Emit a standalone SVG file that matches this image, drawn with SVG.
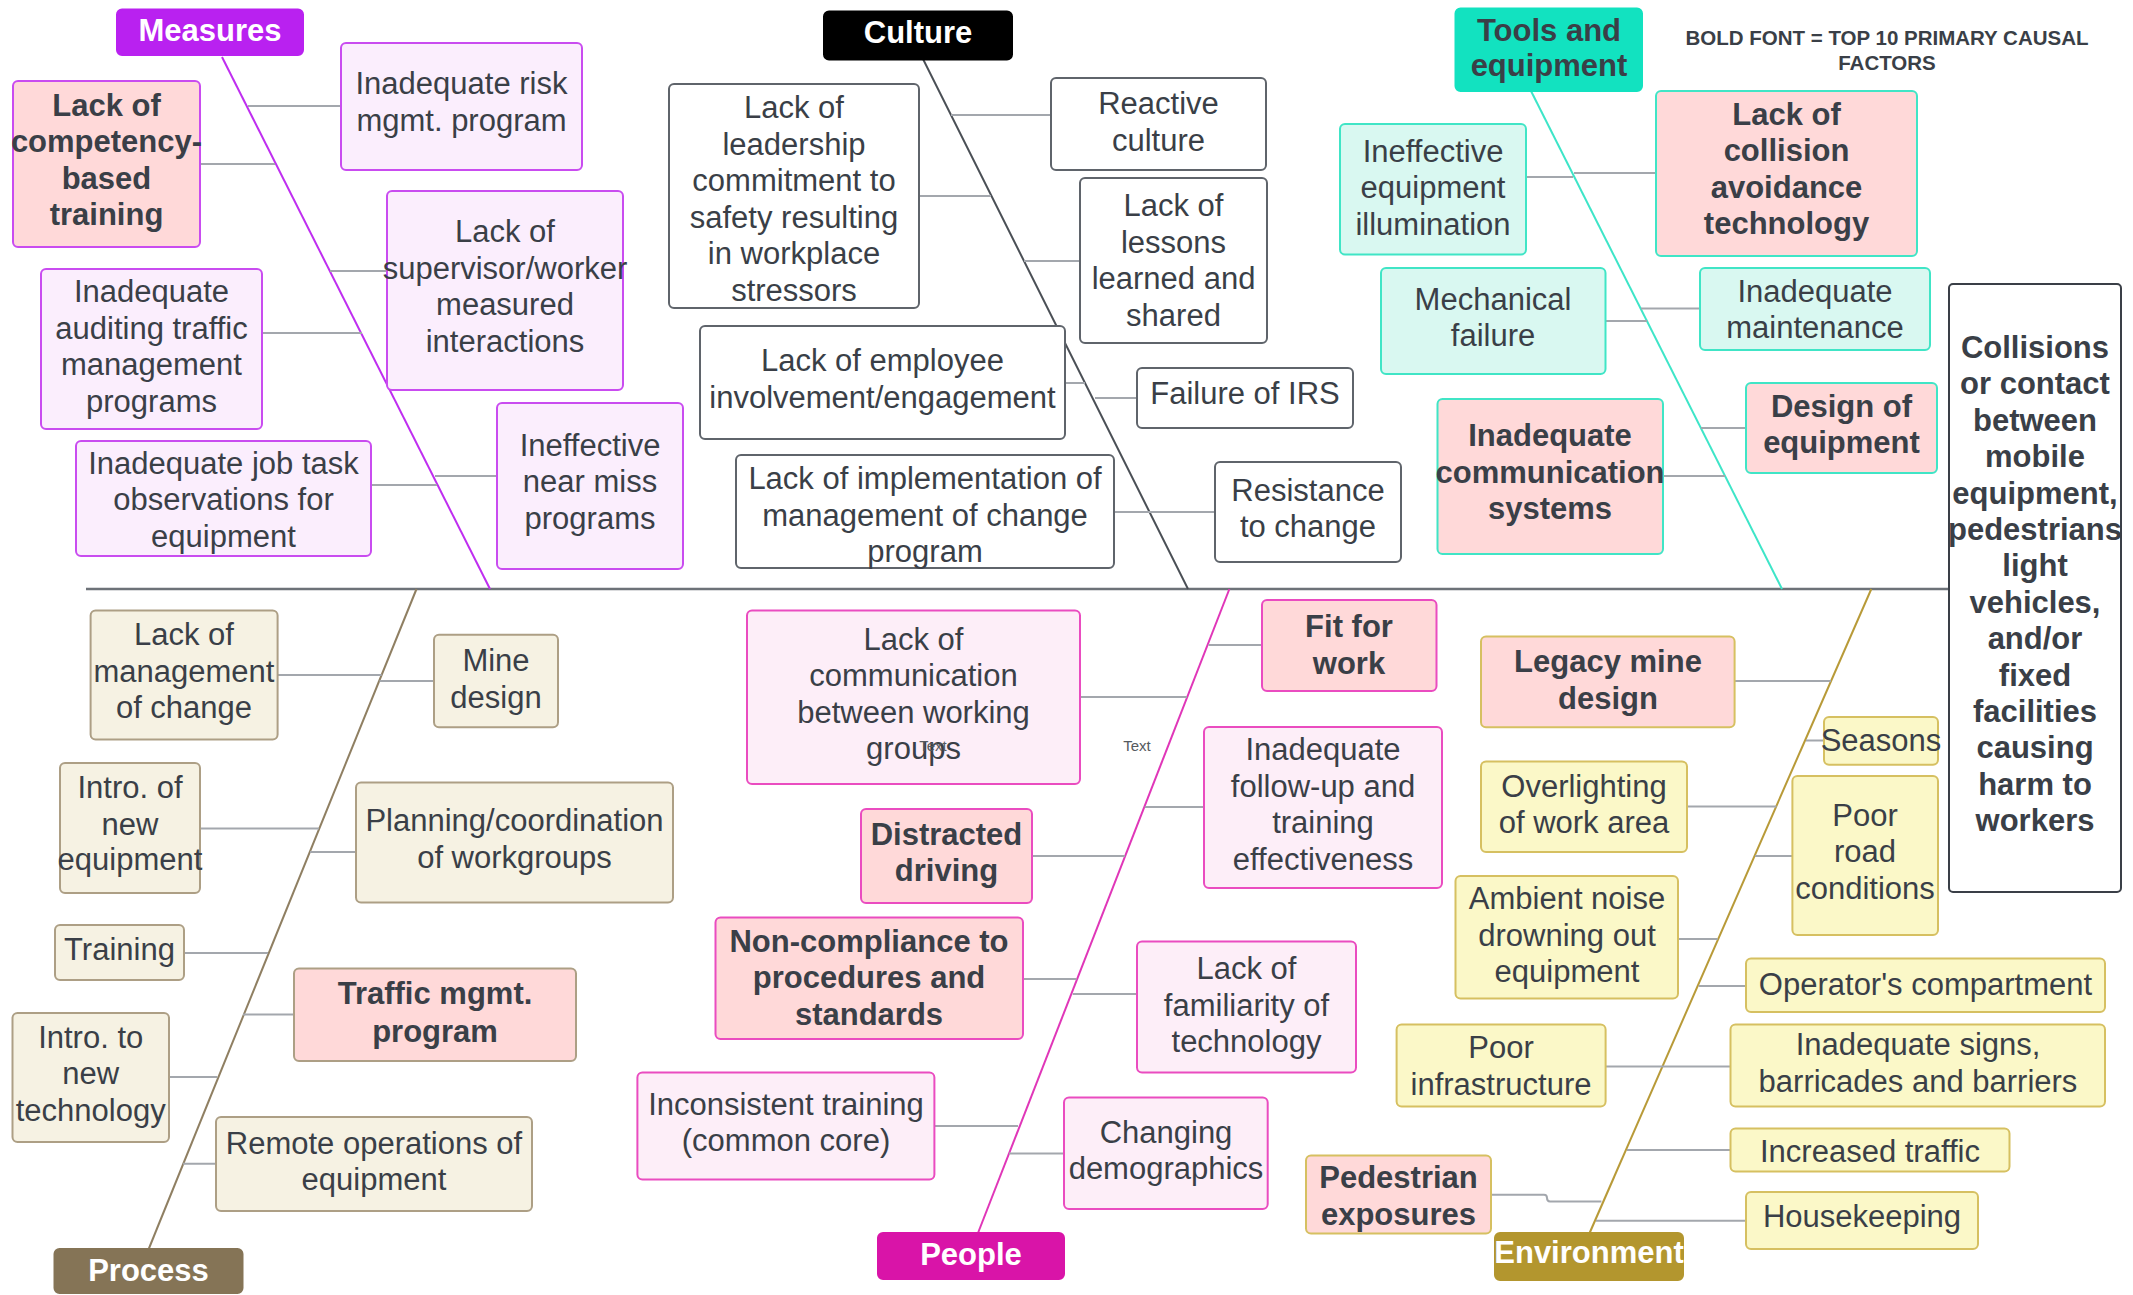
<svg xmlns="http://www.w3.org/2000/svg" width="2133" height="1295" viewBox="0 0 2133 1295">
<style>
text{font-family:"Liberation Sans",Arial,Helvetica,sans-serif;font-size:31px;fill:#3a3f47;text-anchor:middle}
.b{font-weight:bold}
.hd{font-weight:bold;fill:#ffffff}
rect{stroke-width:2}
.m{fill:#fbeefd;stroke:#c94cf0}
.mb{fill:#ffd9d9;stroke:#c94cf0}
.c{fill:#ffffff;stroke:#5f646b}
.t{fill:#d9f8f1;stroke:#40e5c6}
.tb{fill:#ffd9d9;stroke:#40e5c6}
.p{fill:#f6f2e3;stroke:#ad9f85}
.pb{fill:#ffd9d9;stroke:#ad9f85}
.pe{fill:#fdeef8;stroke:#ea4cc0}
.peb{fill:#ffd9d9;stroke:#ea4cc0}
.e{fill:#fbf8c8;stroke:#d6c061}
.eb{fill:#ffd9d9;stroke:#d6c061}
.cn{stroke:#a3a7ad;stroke-width:2;fill:none}
.note{font-size:20.5px;font-weight:bold;fill:#3a3f47}
.sm{font-size:15px;fill:#555a60}
</style>

<g id="connectors">
  <line x1="86" y1="589" x2="1949" y2="589" stroke="#6d7278" stroke-width="2.5"/>
  <line x1="222" y1="57" x2="490" y2="589" stroke="#bf2ef0" stroke-width="2"/>
  <line x1="923" y1="59" x2="1188" y2="589" stroke="#4a4f55" stroke-width="2"/>
  <line x1="1531" y1="91" x2="1782" y2="589" stroke="#3ee5c8" stroke-width="2"/>
  <line x1="416.5" y1="589" x2="148.7" y2="1249" stroke="#8f7f62" stroke-width="2"/>
  <line x1="1229.4" y1="589" x2="978" y2="1233" stroke="#e036b8" stroke-width="2"/>
  <line x1="1871.3" y1="589" x2="1589.6" y2="1233" stroke="#b89a38" stroke-width="2"/>

  <line class="cn" x1="248" y1="106" x2="341" y2="106"/>
  <line class="cn" x1="200" y1="164" x2="275" y2="164"/>
  <line class="cn" x1="330" y1="271" x2="387" y2="271"/>
  <line class="cn" x1="262" y1="333" x2="362" y2="333"/>
  <line class="cn" x1="371" y1="485" x2="437" y2="485"/>
  <line class="cn" x1="435" y1="476" x2="497" y2="476"/>

  <line class="cn" x1="951" y1="115" x2="1051" y2="115"/>
  <line class="cn" x1="919" y1="196" x2="991" y2="196"/>
  <line class="cn" x1="1024" y1="261" x2="1080" y2="261"/>
  <line class="cn" x1="1065" y1="383" x2="1085" y2="383"/>
  <line class="cn" x1="1095" y1="398" x2="1137" y2="398"/>
  <line class="cn" x1="1114" y1="512" x2="1215" y2="512"/>

  <line class="cn" x1="1526" y1="177" x2="1573" y2="177"/>
  <line class="cn" x1="1574" y1="173" x2="1656" y2="173"/>
  <line class="cn" x1="1605.5" y1="321" x2="1647" y2="321"/>
  <line class="cn" x1="1641" y1="308.5" x2="1700" y2="308.5"/>
  <line class="cn" x1="1701" y1="428" x2="1746" y2="428"/>
  <line class="cn" x1="1663" y1="476" x2="1725" y2="476"/>

  <line class="cn" x1="277.7" y1="675" x2="381.7" y2="675"/>
  <line class="cn" x1="379.5" y1="681" x2="434" y2="681"/>
  <line class="cn" x1="200" y1="828.5" x2="319" y2="828.5"/>
  <line class="cn" x1="310" y1="852" x2="356" y2="852"/>
  <line class="cn" x1="184" y1="953" x2="268" y2="953"/>
  <line class="cn" x1="243" y1="1014.6" x2="294" y2="1014.6"/>
  <line class="cn" x1="169" y1="1077" x2="217.4" y2="1077"/>
  <line class="cn" x1="183" y1="1163.7" x2="216" y2="1163.7"/>

  <line class="cn" x1="1080" y1="697" x2="1187" y2="697"/>
  <line class="cn" x1="1208.5" y1="645" x2="1262" y2="645"/>
  <line class="cn" x1="1144.8" y1="807" x2="1204" y2="807"/>
  <line class="cn" x1="1032" y1="856" x2="1125" y2="856"/>
  <line class="cn" x1="1023" y1="979" x2="1076.6" y2="979"/>
  <line class="cn" x1="1072.7" y1="994" x2="1137" y2="994"/>
  <line class="cn" x1="934" y1="1126" x2="1018" y2="1126"/>
  <line class="cn" x1="1009" y1="1153.6" x2="1064" y2="1153.6"/>

  <line class="cn" x1="1734.6" y1="681" x2="1831" y2="681"/>
  <line class="cn" x1="1806" y1="740.5" x2="1824" y2="740.5"/>
  <line class="cn" x1="1687" y1="806.6" x2="1776.6" y2="806.6"/>
  <line class="cn" x1="1755" y1="856" x2="1792.4" y2="856"/>
  <line class="cn" x1="1678" y1="939" x2="1717.7" y2="939"/>
  <line class="cn" x1="1698.7" y1="986" x2="1746" y2="986"/>
  <line class="cn" x1="1605.5" y1="1066.5" x2="1730.5" y2="1066.5"/>
  <line class="cn" x1="1627" y1="1150" x2="1730.5" y2="1150"/>
  <path class="cn" d="M1491,1194.7 H1544 q3,0 3,3.4 q0,3.4 3,3.4 H1601.4"/>
  <line class="cn" x1="1596" y1="1220.7" x2="1746" y2="1220.7"/>
</g>

<!-- Category headers -->
<g id="measures"><rect x="117" y="9.5" width="186" height="45.5" rx="5" fill="#b921f0" stroke="#b921f0"/><text class="hd" x="210" y="41">Measures</text></g>
<g id="culture"><rect x="824" y="11.5" width="188" height="48" rx="5" fill="#000000" stroke="#000000"/><text class="hd" x="918" y="43">Culture</text></g>
<g id="tools"><rect x="1455.5" y="8.5" width="186.5" height="82.5" rx="5" fill="#12e2c0" stroke="#12e2c0"/><text class="b" x="1549" y="40.5">Tools and<tspan x="1549" y="75.5">equipment</tspan></text></g>
<g id="process"><rect x="54.5" y="1249" width="188" height="44" rx="5" fill="#857456" stroke="#857456"/><text class="hd" x="148.5" y="1281">Process</text></g>
<g id="people"><rect x="878" y="1233" width="186" height="46" rx="5" fill="#d914a8" stroke="#d914a8"/><text class="hd" x="971" y="1265">People</text></g>
<g id="environment"><rect x="1495" y="1233" width="188" height="47" rx="5" fill="#b3962e" stroke="#b3962e"/><text class="hd" x="1589" y="1263">Environment</text></g>

<g id="legend"><text class="note" x="1887" y="45">BOLD FONT = TOP 10 PRIMARY CAUSAL<tspan x="1887" y="70">FACTORS</tspan></text></g>

<!-- Measures -->
<g id="m-competency"><rect class="mb" x="13" y="81" width="187" height="166" rx="5"/><text class="b" x="106.5" y="115.5">Lack of<tspan x="106.5" y="152">competency-</tspan><tspan x="106.5" y="188.5">based</tspan><tspan x="106.5" y="225">training</tspan></text></g>
<g id="m-risk"><rect class="m" x="341" y="43" width="241" height="127" rx="5"/><text x="461.5" y="94">Inadequate risk<tspan x="461.5" y="130.5">mgmt. program</tspan></text></g>
<g id="m-supervisor"><rect class="m" x="387" y="191" width="236" height="199" rx="5"/><text x="505" y="242">Lack of<tspan x="505" y="278.5">supervisor/worker</tspan><tspan x="505" y="315">measured</tspan><tspan x="505" y="351.5">interactions</tspan></text></g>
<g id="m-auditing"><rect class="m" x="41" y="269" width="221" height="160" rx="5"/><text x="151.5" y="302">Inadequate<tspan x="151.5" y="338.5">auditing traffic</tspan><tspan x="151.5" y="375">management</tspan><tspan x="151.5" y="411.5">programs</tspan></text></g>
<g id="m-jobtask"><rect class="m" x="76" y="441" width="295" height="115" rx="5"/><text x="223.5" y="473.5">Inadequate job task<tspan x="223.5" y="510">observations for</tspan><tspan x="223.5" y="546.5">equipment</tspan></text></g>
<g id="m-nearmiss"><rect class="m" x="497" y="403" width="186" height="166" rx="5"/><text x="590" y="455.5">Ineffective<tspan x="590" y="492">near miss</tspan><tspan x="590" y="528.5">programs</tspan></text></g>

<!-- Culture -->
<g id="c-leadership"><rect class="c" x="669" y="84" width="250" height="224" rx="5"/><text x="794" y="118">Lack of<tspan x="794" y="154.5">leadership</tspan><tspan x="794" y="191">commitment to</tspan><tspan x="794" y="227.5">safety resulting</tspan><tspan x="794" y="264">in workplace</tspan><tspan x="794" y="300.5">stressors</tspan></text></g>
<g id="c-reactive"><rect class="c" x="1051" y="78" width="215" height="92" rx="5"/><text x="1158.5" y="114">Reactive<tspan x="1158.5" y="150.5">culture</tspan></text></g>
<g id="c-lessons"><rect class="c" x="1080" y="178" width="187" height="165" rx="5"/><text x="1173.5" y="216">Lack of<tspan x="1173.5" y="252.5">lessons</tspan><tspan x="1173.5" y="289">learned and</tspan><tspan x="1173.5" y="325.5">shared</tspan></text></g>
<g id="c-employee"><rect class="c" x="700" y="326" width="365" height="113" rx="5"/><text x="882.5" y="371">Lack of employee<tspan x="882.5" y="407.5">involvement/engagement</tspan></text></g>
<g id="c-irs"><rect class="c" x="1137" y="368" width="216" height="60" rx="5"/><text x="1245" y="404">Failure of IRS</text></g>
<g id="c-implementation"><rect class="c" x="736" y="455" width="378" height="113" rx="5"/><text x="925" y="489">Lack of implementation of<tspan x="925" y="525.5">management of change</tspan><tspan x="925" y="562">program</tspan></text></g>
<g id="c-resistance"><rect class="c" x="1215" y="462" width="186" height="100" rx="5"/><text x="1308" y="501">Resistance<tspan x="1308" y="537">to change</tspan></text></g>

<!-- Tools and equipment -->
<g id="t-illumination"><rect class="t" x="1340" y="124" width="186" height="130.5" rx="5"/><text x="1433" y="161.5">Ineffective<tspan x="1433" y="198">equipment</tspan><tspan x="1433" y="234.5">illumination</tspan></text></g>
<g id="t-collision"><rect class="tb" x="1656" y="91" width="261" height="165" rx="5"/><text class="b" x="1786.5" y="124.5">Lack of<tspan x="1786.5" y="161">collision</tspan><tspan x="1786.5" y="197.5">avoidance</tspan><tspan x="1786.5" y="234">technology</tspan></text></g>
<g id="t-mechanical"><rect class="t" x="1381" y="268" width="224.5" height="106" rx="5"/><text x="1493" y="310">Mechanical<tspan x="1493" y="346">failure</tspan></text></g>
<g id="t-maintenance"><rect class="t" x="1700" y="268" width="230" height="82" rx="5"/><text x="1815" y="301.5">Inadequate<tspan x="1815" y="337.5">maintenance</tspan></text></g>
<g id="t-design"><rect class="tb" x="1746" y="383" width="191" height="90" rx="5"/><text class="b" x="1841.5" y="417">Design of<tspan x="1841.5" y="453">equipment</tspan></text></g>
<g id="t-communication"><rect class="tb" x="1437.5" y="399" width="225.5" height="155" rx="5"/><text class="b" x="1550" y="446">Inadequate<tspan x="1550" y="482.5">communication</tspan><tspan x="1550" y="519">systems</tspan></text></g>

<!-- Process -->
<g id="p-moc"><rect class="p" x="90.6" y="610.5" width="187" height="129" rx="5"/><text x="184" y="645">Lack of<tspan x="184" y="681.5">management</tspan><tspan x="184" y="718">of change</tspan></text></g>
<g id="p-minedesign"><rect class="p" x="434" y="634.7" width="124" height="92.6" rx="5"/><text x="496" y="671">Mine<tspan x="496" y="707.5">design</tspan></text></g>
<g id="p-newequip"><rect class="p" x="60" y="763" width="140" height="130" rx="5"/><text x="130" y="798">Intro. of<tspan x="130" y="834.5">new</tspan><tspan x="130" y="870">equipment</tspan></text></g>
<g id="p-planning"><rect class="p" x="356" y="782.5" width="317" height="120" rx="5"/><text x="514.5" y="831">Planning/coordination<tspan x="514.5" y="867.5">of workgroups</tspan></text></g>
<g id="p-training"><rect class="p" x="55" y="925" width="129" height="55" rx="5"/><text x="119.5" y="960">Training</text></g>
<g id="p-traffic"><rect class="pb" x="294" y="968.5" width="282" height="92.5" rx="5"/><text class="b" x="435" y="1004">Traffic mgmt.<tspan x="435" y="1041.5">program</tspan></text></g>
<g id="p-newtech"><rect class="p" x="12.5" y="1013" width="156.5" height="129" rx="5"/><text x="90.7" y="1047.5">Intro. to<tspan x="90.7" y="1084">new</tspan><tspan x="90.7" y="1120.5">technology</tspan></text></g>
<g id="p-remote"><rect class="p" x="216" y="1117" width="316" height="94" rx="5"/><text x="374" y="1153.5">Remote operations of<tspan x="374" y="1190">equipment</tspan></text></g>

<!-- People -->
<g id="pe-communication"><rect class="pe" x="747" y="610.5" width="333" height="173.5" rx="5"/><text x="913.5" y="649.5">Lack of<tspan x="913.5" y="686">communication</tspan><tspan x="913.5" y="722.5">between working</tspan><tspan x="913.5" y="759">groups</tspan></text></g>
<g id="pe-fit"><rect class="peb" x="1262" y="600" width="174.5" height="91" rx="5"/><text class="b" x="1349" y="637">Fit for<tspan x="1349" y="673.5">work</tspan></text></g>
<g id="pe-followup"><rect class="pe" x="1204" y="727" width="238" height="161" rx="5"/><text x="1323" y="760">Inadequate<tspan x="1323" y="796.5">follow-up and</tspan><tspan x="1323" y="833">training</tspan><tspan x="1323" y="869.5">effectiveness</tspan></text></g>
<g id="pe-distracted"><rect class="peb" x="861" y="809" width="171" height="94" rx="5"/><text class="b" x="946.5" y="844.5">Distracted<tspan x="946.5" y="881">driving</tspan></text></g>
<g id="pe-noncompliance"><rect class="peb" x="715.5" y="917.5" width="307.5" height="121.5" rx="5"/><text class="b" x="869" y="951.5">Non-compliance to<tspan x="869" y="988">procedures and</tspan><tspan x="869" y="1024.5">standards</tspan></text></g>
<g id="pe-familiarity"><rect class="pe" x="1137" y="941.6" width="219" height="131" rx="5"/><text x="1246.5" y="979">Lack of<tspan x="1246.5" y="1015.5">familiarity of</tspan><tspan x="1246.5" y="1052">technology</tspan></text></g>
<g id="pe-inconsistent"><rect class="pe" x="637.4" y="1072.5" width="297" height="107" rx="5"/><text x="786" y="1114.5">Inconsistent training<tspan x="786" y="1151">(common core)</tspan></text></g>
<g id="pe-demographics"><rect class="pe" x="1064" y="1097.6" width="203.7" height="111.4" rx="5"/><text x="1166" y="1143">Changing<tspan x="1166" y="1179">demographics</tspan></text></g>

<!-- Environment -->
<g id="e-legacy"><rect class="eb" x="1481" y="636.5" width="253.6" height="90.8" rx="5"/><text class="b" x="1608" y="672">Legacy mine<tspan x="1608" y="708.5">design</tspan></text></g>
<g id="e-seasons"><rect class="e" x="1824" y="717" width="114" height="47.7" rx="5"/><text x="1881" y="751">Seasons</text></g>
<g id="e-overlighting"><rect class="e" x="1481" y="761.5" width="206" height="90.5" rx="5"/><text x="1584" y="796.5">Overlighting<tspan x="1584" y="833">of work area</tspan></text></g>
<g id="e-road"><rect class="e" x="1792.4" y="776" width="145.6" height="159" rx="5"/><text x="1865" y="825.5">Poor<tspan x="1865" y="862">road</tspan><tspan x="1865" y="898.5">conditions</tspan></text></g>
<g id="e-noise"><rect class="e" x="1455.5" y="876" width="222.5" height="122.6" rx="5"/><text x="1567" y="909">Ambient noise<tspan x="1567" y="945.5">drowning out</tspan><tspan x="1567" y="982">equipment</tspan></text></g>
<g id="e-operator"><rect class="e" x="1746" y="958.5" width="359" height="53.5" rx="5"/><text x="1925.5" y="995">Operator's compartment</text></g>
<g id="e-infrastructure"><rect class="e" x="1396.6" y="1024.6" width="209" height="82" rx="5"/><text x="1501" y="1058">Poor<tspan x="1501" y="1094.5">infrastructure</tspan></text></g>
<g id="e-signs"><rect class="e" x="1730.5" y="1024.6" width="374.5" height="82" rx="5"/><text x="1918" y="1055">Inadequate signs,<tspan x="1918" y="1091.5">barricades and barriers</tspan></text></g>
<g id="e-traffic"><rect class="e" x="1730.5" y="1128.6" width="279" height="42.8" rx="5"/><text x="1870" y="1161.5">Increased traffic</text></g>
<g id="e-housekeeping"><rect class="e" x="1746" y="1192" width="232" height="57" rx="5"/><text x="1862" y="1226.5">Housekeeping</text></g>
<g id="e-pedestrian"><rect class="eb" x="1306" y="1155.5" width="185" height="78" rx="5"/><text class="b" x="1398.5" y="1188">Pedestrian<tspan x="1398.5" y="1224.5">exposures</tspan></text></g>

<!-- Effect -->
<g id="effect"><rect x="1949" y="284" width="172" height="608" rx="4" fill="#ffffff" stroke="#3a3f47" stroke-width="3.5"/>
<text class="b" x="2035" y="358">Collisions<tspan x="2035" y="394.4">or contact</tspan><tspan x="2035" y="430.8">between</tspan><tspan x="2035" y="467.2">mobile</tspan><tspan x="2035" y="503.6">equipment,</tspan><tspan x="2035" y="540">pedestrians</tspan><tspan x="2035" y="576.4">light</tspan><tspan x="2035" y="612.8">vehicles,</tspan><tspan x="2035" y="649.2">and/or</tspan><tspan x="2035" y="685.6">fixed</tspan><tspan x="2035" y="722">facilities</tspan><tspan x="2035" y="758.4">causing</tspan><tspan x="2035" y="794.8">harm to</tspan><tspan x="2035" y="831.2">workers</tspan></text></g>

<g id="stray-labels"><text class="sm" x="933" y="751">Text</text><text class="sm" x="1137" y="751">Text</text></g>
</svg>
